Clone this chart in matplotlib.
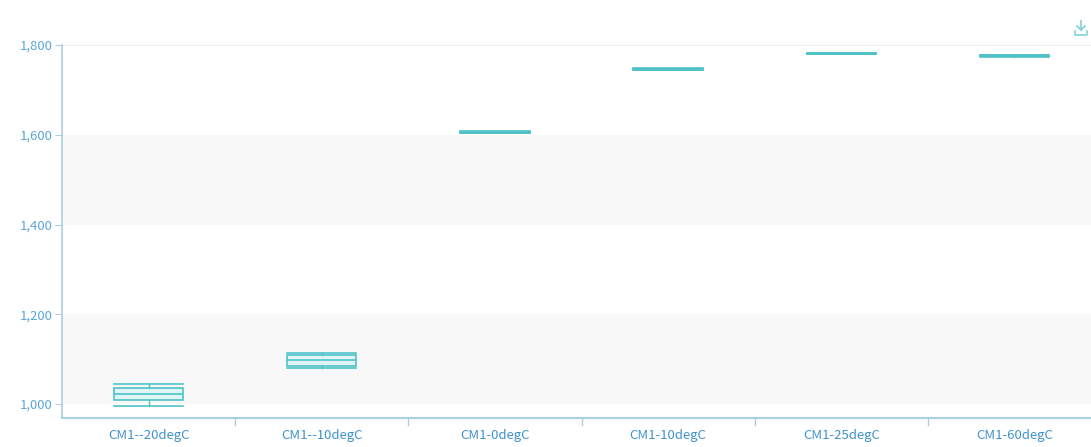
import matplotlib
matplotlib.use("Agg")
import matplotlib.pyplot as plt
from matplotlib.lines import Line2D

plt.rcParams['font.family'] = ['Noto Sans CJK SC', 'DejaVu Sans']

categories = ["CM1--20degC", "CM1--10degC", "CM1-0degC", "CM1-10degC", "CM1-25degC", "CM1-60degC"]
mins    = [995, 1081, 1603, 1744, 1779, 1774]
q1s     = [1009, 1085, 1604, 1745, 1780, 1775]
medians = [1023, 1098, 1606, 1746, 1781, 1776]
q3s     = [1036, 1110, 1607, 1747, 1782, 1777]
maxs    = [1045, 1113, 1608, 1748, 1783, 1778]
ytick_vals = [1000, 1200, 1400, 1600, 1800]
ytick_labels = ["1,000", "1,200", "1,400", "1,600", "1,800"]

line_col = "#4fc2c8"
fill_col = "#dff6f7"
axis_col = "#a9cfe0"
text_col = "#3f93cc"

W, H = 1091, 447
fig = plt.figure(figsize=(W / 100, H / 100), dpi=100)
ax = fig.add_axes([62 / W, (H - 418) / H, (1101 - 62) / W, (418 - 45) / H])

# alternating horizontal bands
for lo, hi in [(1000, 1200), (1400, 1600)]:
    ax.axhspan(lo, hi, color="#f8f8f8", zorder=0, lw=0)
ax.axhline(1800, color="#efefef", lw=0.8, zorder=0.5)

stats = []
for i, c in enumerate(categories):
    stats.append(dict(label=c, whislo=mins[i], q1=q1s[i], med=medians[i],
                      q3=q3s[i], whishi=maxs[i], fliers=[]))

positions = list(range(len(categories)))
ax.bxp(stats, positions=positions, widths=0.4, capwidths=0.4,
       patch_artist=True, showfliers=False,
       boxprops=dict(facecolor=fill_col, edgecolor=line_col, linewidth=1.2),
       medianprops=dict(color=line_col, linewidth=1.2),
       whiskerprops=dict(color=line_col, linewidth=1.0),
       capprops=dict(color=line_col, linewidth=1.2),
       zorder=3)

ax.set_xlim(-0.5, len(categories) - 0.5)
ax.set_ylim(969, 1800)

ax.set_yticks(ytick_vals)
ax.set_yticklabels(ytick_labels)
ax.set_xticks(positions)
ax.set_xticklabels(categories)
ax.tick_params(axis="x", length=0, colors=text_col, labelsize=9.5, pad=8)
ax.tick_params(axis="y", length=5, color=axis_col, colors=text_col, labelsize=9.5, pad=2)
for lbl in ax.get_yticklabels():
    lbl.set_color("#5aa6d6")

# category boundary ticks below the x axis
for b in range(1, len(categories)):
    ax.plot([b - 0.5, b - 0.5], [0, -0.02], transform=ax.get_xaxis_transform(),
            color=axis_col, lw=1, clip_on=False)

for s in ["top", "right"]:
    ax.spines[s].set_visible(False)
ax.spines["left"].set_color(axis_col)
ax.spines["bottom"].set_color(axis_col)
ax.spines["left"].set_linewidth(1.2)
ax.spines["bottom"].set_linewidth(1.5)

# download icon
ix, iy = 1081, 447 - 28
icon = [
    ([ix, ix], [iy + 7, iy - 2]),
    ([ix - 4, ix, ix + 4], [iy + 2, iy - 2, iy + 2]),
    ([ix - 6, ix - 6, ix + 6, ix + 6], [iy - 3, iy - 7, iy - 7, iy - 3]),
]
for xs, ys in icon:
    fig.add_artist(Line2D([x / W for x in xs], [y / H for y in ys],
                          color="#7fd3d6", lw=1.2))

fig.savefig("out.png", dpi=100, facecolor="white")
